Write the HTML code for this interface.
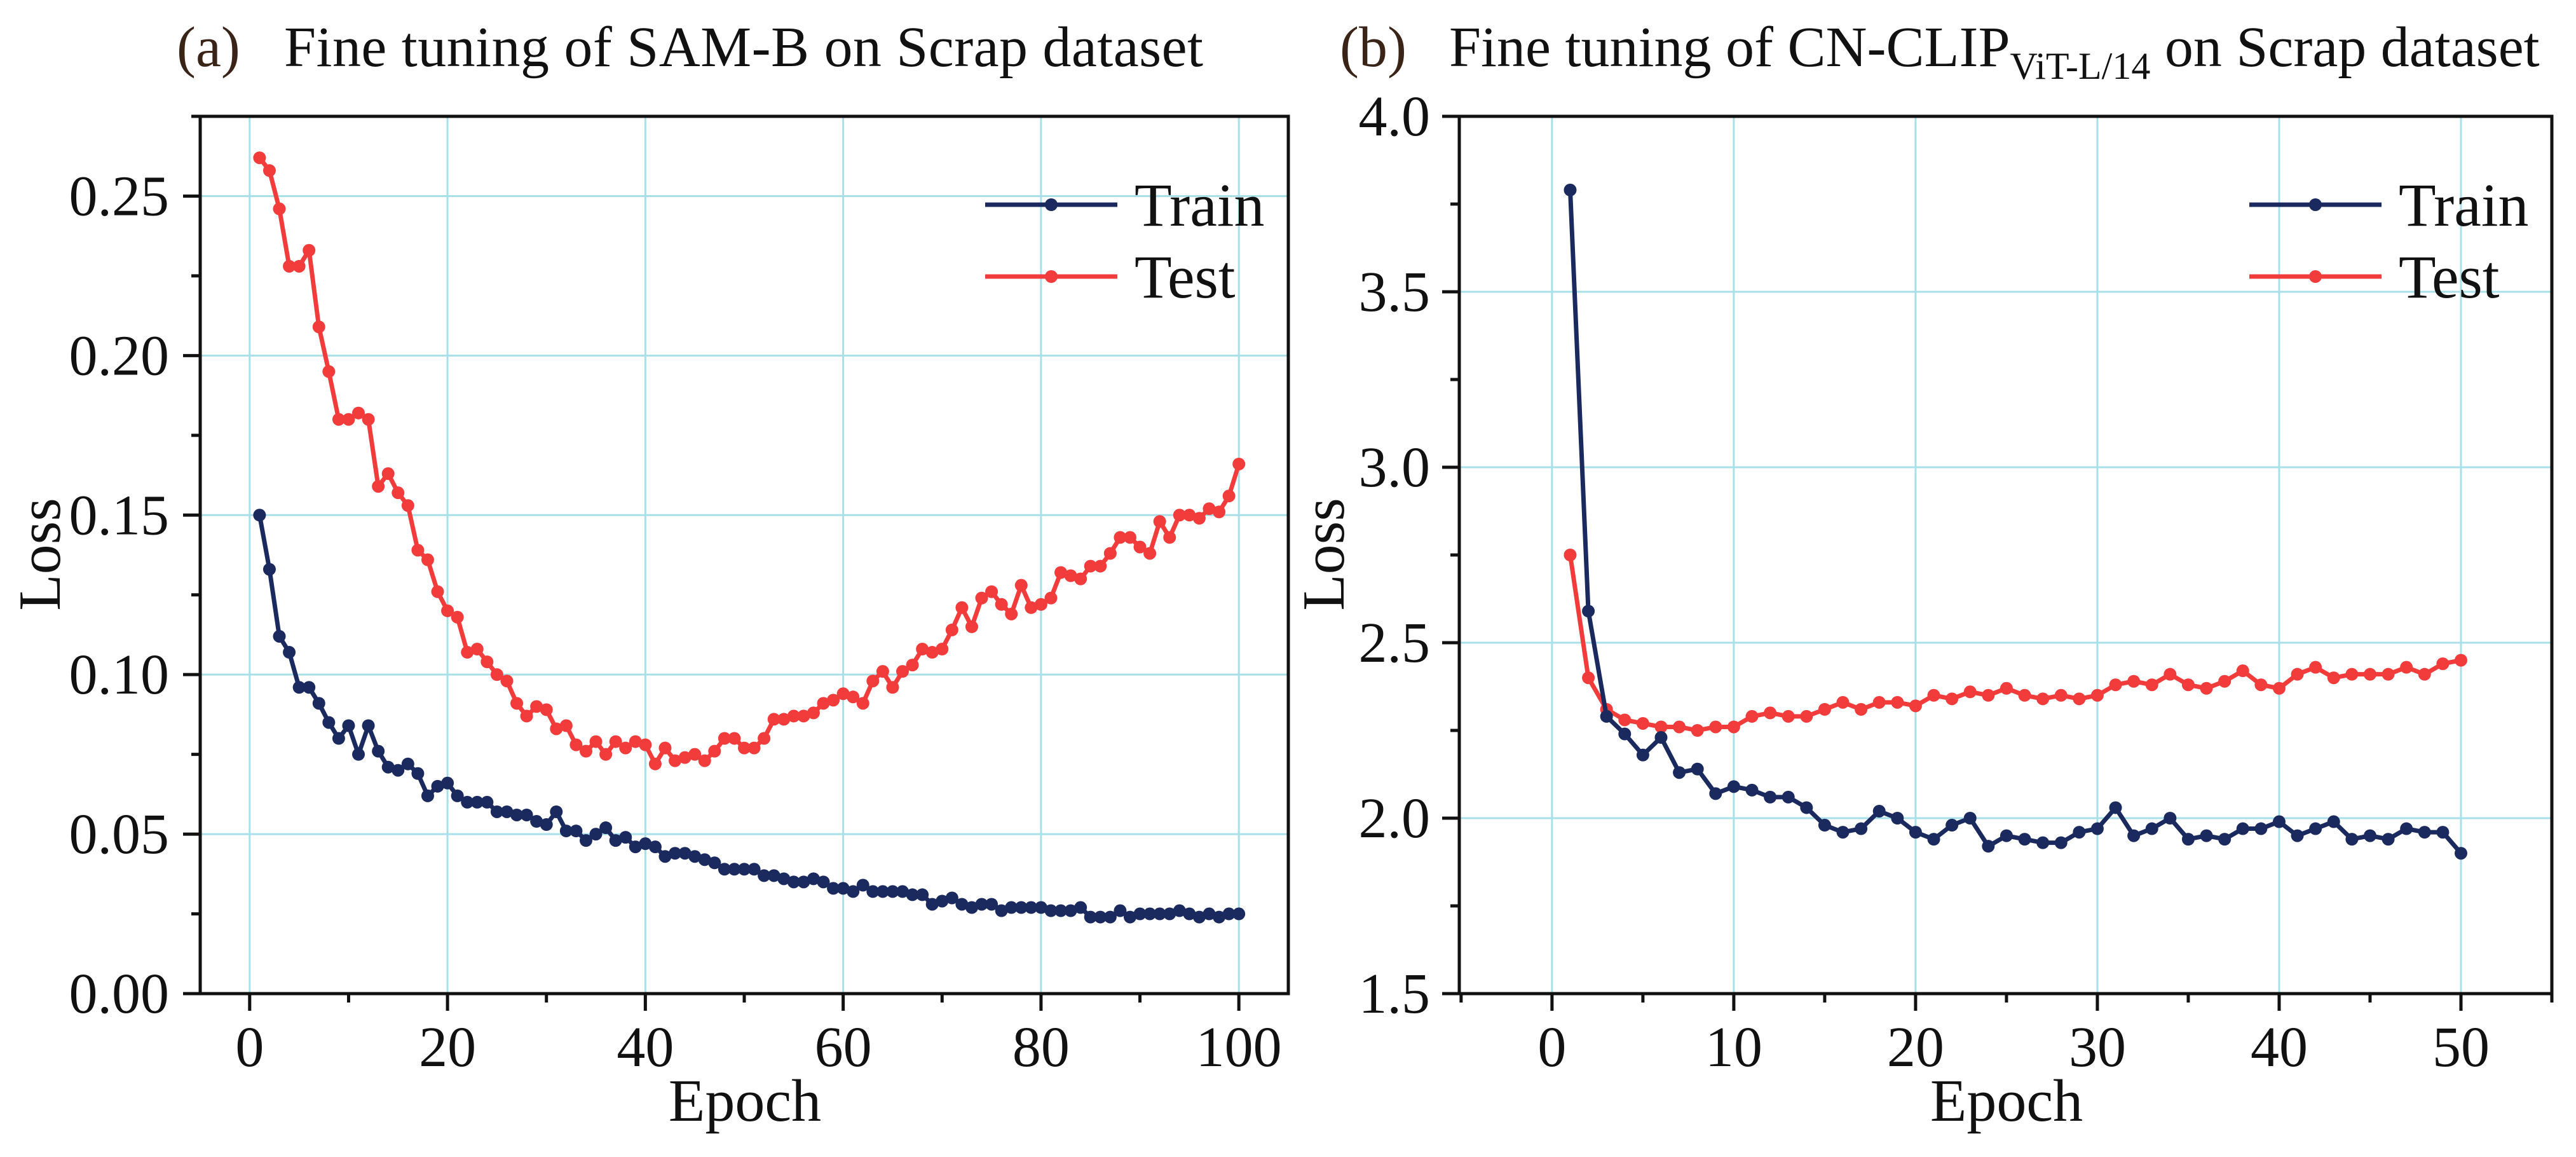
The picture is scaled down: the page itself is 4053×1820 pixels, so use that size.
<!DOCTYPE html>
<html><head><meta charset="utf-8"><style>
html,body{margin:0;padding:0;background:#fff;overflow:hidden;}
svg{display:block;font-family:"Liberation Serif",serif;}
</style></head><body>
<svg id="fig" width="4053" height="1820" viewBox="0 0 4053 1820" xmlns="http://www.w3.org/2000/svg" style="position:absolute;left:0;top:0"></svg>
<script>
const epochsA = Array.from({length:100},(_, i)=>i+1);
const trainA = [0.150,0.133,0.112,0.107,0.096,0.096,0.091,0.085,0.080,0.084,0.075,0.084,0.076,0.071,0.070,0.072,0.069,0.062,0.065,0.066,0.062,0.060,0.060,0.060,0.057,0.057,0.056,0.056,0.054,0.053,0.057,0.051,0.051,0.048,0.050,0.052,0.048,0.049,0.046,0.047,0.046,0.043,0.044,0.044,0.043,0.042,0.041,0.039,0.039,0.039,0.039,0.037,0.037,0.036,0.035,0.035,0.036,0.035,0.033,0.033,0.032,0.034,0.032,0.032,0.032,0.032,0.031,0.031,0.028,0.029,0.030,0.028,0.027,0.028,0.028,0.026,0.027,0.027,0.027,0.027,0.026,0.026,0.026,0.027,0.024,0.024,0.024,0.026,0.024,0.025,0.025,0.025,0.025,0.026,0.025,0.024,0.025,0.024,0.025,0.025];
const testA = [0.262,0.258,0.246,0.228,0.228,0.233,0.209,0.195,0.180,0.180,0.182,0.180,0.159,0.163,0.157,0.153,0.139,0.136,0.126,0.120,0.118,0.107,0.108,0.104,0.100,0.098,0.091,0.087,0.090,0.089,0.083,0.084,0.078,0.076,0.079,0.075,0.079,0.077,0.079,0.078,0.072,0.077,0.073,0.074,0.075,0.073,0.076,0.080,0.080,0.077,0.077,0.080,0.086,0.086,0.087,0.087,0.088,0.091,0.092,0.094,0.093,0.091,0.098,0.101,0.096,0.101,0.103,0.108,0.107,0.108,0.114,0.121,0.115,0.124,0.126,0.122,0.119,0.128,0.121,0.122,0.124,0.132,0.131,0.130,0.134,0.134,0.138,0.143,0.143,0.140,0.138,0.148,0.143,0.150,0.150,0.149,0.152,0.151,0.156,0.166];
const xTicksA = [0,20,40,60,80,100];
const yTicksA = ["0.00","0.05","0.10","0.15","0.20","0.25"];
const epochsB = Array.from({length:50},(_, i)=>i+1);
const trainB = [3.79,2.59,2.29,2.24,2.18,2.23,2.13,2.14,2.07,2.09,2.08,2.06,2.06,2.03,1.98,1.96,1.97,2.02,2.00,1.96,1.94,1.98,2.00,1.92,1.95,1.94,1.93,1.93,1.96,1.97,2.03,1.95,1.97,2.00,1.94,1.95,1.94,1.97,1.97,1.99,1.95,1.97,1.99,1.94,1.95,1.94,1.97,1.96,1.96,1.90];
const testB = [2.75,2.40,2.31,2.28,2.27,2.26,2.26,2.25,2.26,2.26,2.29,2.30,2.29,2.29,2.31,2.33,2.31,2.33,2.33,2.32,2.35,2.34,2.36,2.35,2.37,2.35,2.34,2.35,2.34,2.35,2.38,2.39,2.38,2.41,2.38,2.37,2.39,2.42,2.38,2.37,2.41,2.43,2.40,2.41,2.41,2.41,2.43,2.41,2.44,2.45];
const xTicksB = [0,10,20,30,40,50];
const yTicksB = ["1.5","2.0","2.5","3.0","3.5","4.0"];

const NS="http://www.w3.org/2000/svg";
const svg=document.getElementById('fig');
function mk(tag,attrs,parent){const e=document.createElementNS(NS,tag);for(const k in attrs)e.setAttribute(k,attrs[k]);(parent||svg).appendChild(e);return e;}
const TRAIN="#1b2a5e", TEST="#f23c3c", GRID="#a8e0ea";

function panel(cfg){
  const g=mk('g',{});
  
  
  const {L,R,T,B,xmin,xmax,ymin,ymax}=cfg;
  const sx=v=>L+(v-xmin)/(xmax-xmin)*(R-L);
  const sy=v=>B-(v-ymin)/(ymax-ymin)*(B-T);
  cfg.xTicks.forEach(t=>{const l=mk('line',{x1:sx(t),x2:sx(t),y1:T,y2:B,stroke:GRID,'stroke-width':3},g);
    
    });
  cfg.yTicks.forEach(t=>{const v=parseFloat(t);const l=mk('line',{x1:L,x2:R,y1:sy(v),y2:sy(v),stroke:GRID,'stroke-width':3},g);
    
    });
  function series(xs,ys,color,name){
    const s=mk('g',{},g);
    
    
    mk('polyline',{points:xs.map((x,i)=>sx(x)+','+sy(ys[i])).join(' '),fill:'none',stroke:color,'stroke-width':7,'stroke-linejoin':'round'},s);
    xs.forEach((x,i)=>{const c=mk('circle',{cx:sx(x),cy:sy(ys[i]),r:10,fill:color},s);
      
      });
  }
  series(cfg.ex,cfg.test,TEST,'test-series');
  series(cfg.ex,cfg.train,TRAIN,'train-series');
  const box=mk('rect',{x:L,y:T,width:R-L,height:B-T,fill:'none',stroke:'#111','stroke-width':5},g);
  
  
  const xStep=cfg.xTicks[1]-cfg.xTicks[0];
  for(let v=cfg.xTicks[0]-xStep/2; v<=xmax; v+=xStep/2){ if(v<xmin) continue;
    const major=cfg.xTicks.includes(Math.round(v*1000)/1000);
    mk('line',{x1:sx(v),x2:sx(v),y1:B,y2:B+(major?27:14),stroke:'#111','stroke-width':5},g);}
  cfg.xTicks.forEach(t=>{const tx=mk('text',{x:sx(t),y:1677,'font-size':90,'text-anchor':'middle',fill:'#111'},g);tx.textContent=t;
    
    });
  const yStep=parseFloat(cfg.yTicks[1])-parseFloat(cfg.yTicks[0]);
  for(let v=ymin; v<=ymax+1e-9; v+=yStep/2){
    const major=Math.abs(((v-ymin)/yStep)-Math.round((v-ymin)/yStep))<1e-6;
    mk('line',{x1:L,x2:L-(major?27:14),y1:sy(v),y2:sy(v),stroke:'#111','stroke-width':5},g);}
  cfg.yTicks.forEach(t=>{const tx=mk('text',{x:cfg.yLabelX,y:sy(parseFloat(t))+30,'font-size':90,'text-anchor':'end',fill:'#111'},g);tx.textContent=t;
    
    });
  const xt=mk('text',{x:cfg.epochX,y:1763,'font-size':94,'text-anchor':'middle',fill:'#111'},g);xt.textContent='Epoch';
  
  
  const yt=mk('text',{x:0,y:0,'font-size':94,'text-anchor':'middle',fill:'#111',transform:`translate(${cfg.lossX+32},872) rotate(-90)`},g);yt.textContent='Loss';
  
  
  [[TRAIN,'Train',322],[TEST,'Test',435]].forEach(([c,lab,y])=>{
    const lg=mk('g',{},g);
    
    
    mk('line',{x1:cfg.legX,x2:cfg.legX+208,y1:y,y2:y,stroke:c,'stroke-width':7},lg);
    mk('circle',{cx:cfg.legX+104,cy:y,r:10,fill:c},lg);
    const t=mk('text',{x:cfg.legX+235,y:y+33,'font-size':96,fill:'#111'},lg);t.textContent=lab;
  });
}
panel({name:'panel-a',L:315,R:2027,T:183,B:1563,xmin:-5,xmax:105,ymin:0,ymax:0.275,xTicks:xTicksA,yTicks:yTicksA,ex:epochsA,train:trainA,test:testA,yLabelX:266,epochX:1172,lossX:62,legX:1550});
panel({name:'panel-b',L:2296,R:4015,T:183,B:1563,xmin:-5.1,xmax:55,ymin:1.5,ymax:4.0,xTicks:xTicksB,yTicks:yTicksB,ex:epochsB,train:trainB,test:testB,yLabelX:2250,epochX:3157,lossX:2082,legX:3539});
</script>
<svg style="position:absolute;left:0;top:0" width="4053" height="200">
<text x="278" y="104" font-family="Liberation Serif, serif" font-size="90" fill="#3a2418">(a)</text>
<text x="447" y="104" font-family="Liberation Serif, serif" font-size="90" fill="#111" textLength="1446">Fine tuning of SAM-B on Scrap dataset</text>
<text x="2108" y="104" font-family="Liberation Serif, serif" font-size="90" fill="#3a2418">(b)</text>
<text x="2280" y="104" font-family="Liberation Serif, serif" font-size="90" fill="#111">Fine tuning of CN-CLIP<tspan font-size="60" dy="20">ViT-L/14</tspan><tspan dy="-20"> on Scrap dataset</tspan></text>
</svg>
</body></html>
